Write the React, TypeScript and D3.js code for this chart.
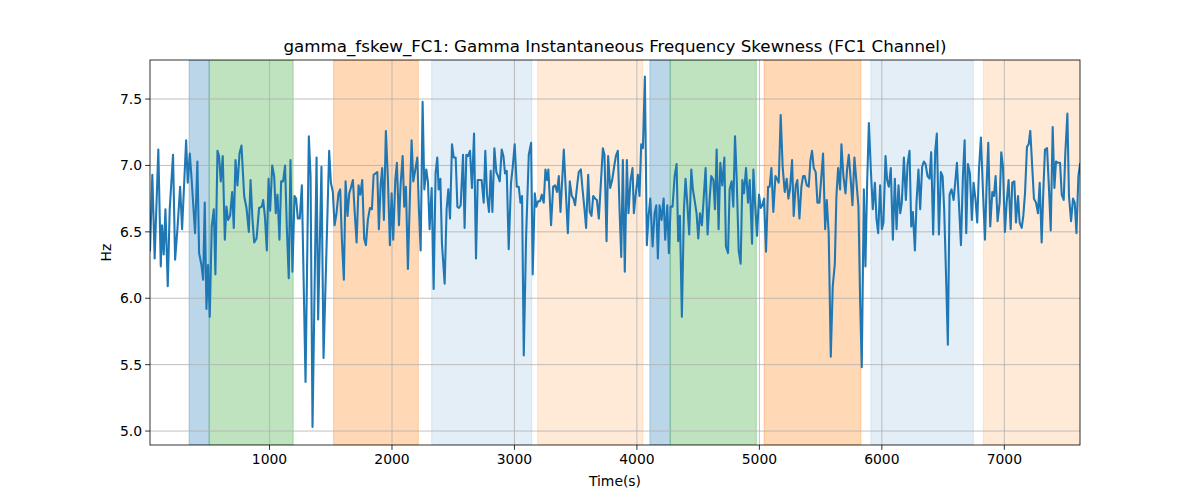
import React from "react";
import * as d3 from "d3";

const TITLE = "gamma_fskew_FC1: Gamma Instantaneous Frequency Skewness (FC1 Channel)";
const X_LABEL = "Time(s)";
const Y_LABEL = "Hz";

const times: number[] = [
  24, 43, 62, 92, 112, 122, 136, 150, 169, 185, 212, 229, 248, 270, 286, 319, 332, 349, 365, 392,
  411, 425, 444, 458, 471, 485, 498, 512, 528, 545, 558, 575, 588, 602, 618, 635, 648, 662, 678, 695,
  708, 722, 738, 755, 771, 793, 812, 831, 845, 861, 875, 894, 915, 937, 948, 962, 978, 992, 1005, 1022,
  1038, 1051, 1065, 1081, 1095, 1111, 1127, 1141, 1157, 1171, 1187, 1204, 1217, 1231, 1247, 1264, 1294, 1321, 1335, 1351,
  1384, 1397, 1424, 1441, 1487, 1501, 1517, 1531, 1547, 1563, 1577, 1591, 1607, 1621, 1637, 1651, 1664, 1681, 1694, 1711,
  1727, 1741, 1757, 1773, 1787, 1803, 1820, 1836, 1850, 1866, 1880, 1893, 1907, 1920, 1934, 1950, 1967, 1983, 1997,
  2010, 2027, 2040, 2057, 2070, 2087, 2100, 2114, 2130, 2144, 2160, 2174, 2187, 2207, 2220, 2234, 2250, 2264, 2280, 2294,
  2307, 2324, 2340, 2356, 2370, 2381, 2395, 2408, 2430, 2446, 2460, 2474, 2490, 2504, 2520, 2534, 2547, 2561, 2580, 2593,
  2607, 2621, 2637, 2653, 2670, 2686, 2700, 2719, 2732, 2749, 2762, 2776, 2792, 2806, 2820, 2836, 2852, 2866, 2880, 2896,
  2910, 2923, 2937, 2953, 2972,
  2986, 3002, 3019, 3035, 3049, 3062, 3076, 3095, 3117, 3136, 3149, 3166, 3179, 3193, 3209, 3223, 3239, 3253, 3267, 3277,
  3299, 3316, 3332, 3348, 3362, 3376, 3403, 3436, 3452, 3468, 3482, 3495, 3512, 3525, 3542, 3555, 3572, 3585, 3602, 3615,
  3629, 3643, 3659, 3673, 3689, 3722, 3735, 3752, 3765, 3782, 3798, 3814, 3828, 3844, 3858, 3872, 3885, 3901, 3918, 3931,
  3948, 3964,
  3975, 3989, 4008, 4021, 4035, 4049, 4065, 4081, 4095, 4109, 4128, 4144, 4158, 4171, 4185, 4201, 4218, 4231, 4248, 4261,
  4275, 4291, 4308, 4324, 4337, 4351, 4367, 4384, 4397, 4411, 4427, 4444, 4457, 4474, 4487, 4501, 4515, 4531, 4547, 4561,
  4577, 4594, 4607, 4624, 4637, 4651, 4667, 4681, 4697, 4714, 4727, 4744, 4757, 4773, 4787, 4801, 4814, 4831, 4847, 4861,
  4874, 4891, 4907, 4921, 4940,
  4951, 4964, 4981, 4997, 5011, 5024, 5038, 5054, 5071, 5084, 5098, 5114, 5131, 5144, 5158, 5174, 5190, 5207, 5223, 5237,
  5250, 5267, 5280, 5297, 5310, 5327, 5343, 5357, 5370, 5387, 5403, 5417, 5430, 5444, 5460, 5474, 5490, 5504, 5520, 5537,
  5550, 5566, 5583, 5599, 5616, 5629, 5643, 5659, 5670, 5686, 5703, 5716, 5730, 5746, 5760, 5776, 5793, 5809, 5823, 5836,
  5853, 5866, 5880, 5894, 5910, 5926,
  5943, 5956, 5970, 5986, 6000, 6013, 6030, 6043, 6057, 6073, 6090, 6106, 6120, 6136, 6150, 6163, 6180, 6196, 6210, 6226,
  6240, 6253, 6270, 6283, 6299, 6313, 6329, 6343, 6357, 6373, 6389, 6403, 6419, 6436, 6449, 6466, 6482, 6496, 6509, 6523,
  6539, 6553, 6569, 6586, 6599, 6613, 6629, 6646, 6662, 6676, 6689, 6703, 6719, 6735, 6749, 6765, 6779, 6793, 6809, 6825,
  6842, 6855, 6869, 6885, 6902,
  6915, 6929, 6945, 6962, 6975, 6989, 7005, 7019, 7035, 7052, 7065, 7082, 7095, 7112, 7125, 7142, 7155, 7169, 7185, 7199,
  7212, 7229, 7242, 7259, 7275, 7289, 7305, 7319, 7332, 7349, 7365, 7379, 7395, 7409, 7422, 7439, 7455, 7469, 7485, 7498,
  7515, 7528, 7545, 7561, 7575, 7589, 7605, 7618,
];

const values: number[] = [
  6.36, 6.93, 6.30, 7.12, 6.24, 6.55, 6.33, 6.67, 6.09, 6.67, 7.08, 6.29, 6.52, 6.84, 6.52, 7.19, 6.87, 7.09, 6.88, 6.49,
  7.03, 6.34, 6.25, 6.14, 6.72, 5.92, 6.25, 5.86, 6.54, 6.67, 6.18, 7.11, 7.07, 6.88, 7.07, 6.44, 6.69, 6.59, 6.62, 6.80,
  6.53, 7.04, 6.85, 7.09, 7.15, 6.77, 6.68, 6.50, 6.89, 6.59, 6.42, 6.45, 6.68, 6.69, 6.74, 6.62, 6.36, 6.90, 6.66, 7.00,
  6.92, 6.64, 6.78, 6.44, 6.88, 6.88, 7.00, 6.54, 6.15, 7.04, 6.20, 6.77, 6.75, 6.60, 6.60, 6.85, 5.37, 7.22, 6.92, 5.03,
  7.06, 5.84, 6.99, 5.55, 7.11, 6.87, 6.80, 6.55, 6.64, 6.79, 6.82, 6.44, 6.14, 6.88, 6.62, 6.79, 6.83, 6.89, 6.67, 6.42,
  6.85, 6.78, 6.89, 6.45, 6.40, 6.59, 6.68, 6.67, 6.93, 6.94, 6.95, 6.52, 6.85, 6.98, 6.59, 7.26, 6.89, 6.40, 6.79,
  6.44, 6.89, 7.02, 6.55, 6.85, 7.07, 6.69, 6.84, 6.22, 6.69, 7.19, 6.88, 6.95, 7.06, 6.67, 6.36, 7.48, 6.82, 6.97, 6.87,
  6.52, 6.83, 6.07, 6.94, 7.06, 6.82, 6.90, 6.41, 6.11, 6.67, 6.82, 6.60, 7.16, 7.06, 7.06, 6.69, 6.68, 6.70, 7.08, 6.53,
  7.08, 7.07, 7.11, 6.83, 7.24, 6.30, 6.89, 6.89, 6.89, 6.72, 7.11, 6.78, 6.65, 6.96, 6.65, 7.13, 6.95, 6.92, 6.88, 7.12,
  7.07, 6.94, 6.96, 6.37, 6.87,
  6.99, 7.16, 6.84, 6.84, 6.72, 6.77, 5.57, 6.46, 7.08, 7.17, 6.18, 6.79, 6.69, 6.73, 6.73, 6.78, 6.72, 6.97, 6.89, 6.97,
  6.55, 6.84, 6.85, 6.80, 6.92, 6.65, 7.12, 6.49, 6.88, 6.77, 6.75, 6.70, 6.85, 6.95, 6.97, 6.83, 6.67, 6.53, 6.93, 6.65,
  6.62, 6.77, 6.75, 6.74, 6.60, 7.13, 7.08, 6.43, 7.07, 6.83, 6.89, 6.99, 7.07, 7.11, 6.67, 6.31, 7.04, 6.20, 7.04, 6.64,
  6.89, 6.98,
  6.64, 6.77, 6.93, 6.77, 7.16, 7.13, 7.67, 6.40, 6.62, 6.75, 6.39, 6.64, 6.70, 6.30, 6.70, 6.59, 6.75, 6.44, 6.70, 6.34,
  6.69, 6.69, 6.92, 7.01, 6.43, 6.62, 5.86, 6.67, 6.90, 6.72, 6.48, 6.97, 6.82, 6.72, 6.64, 6.45, 6.64, 6.55, 6.78, 6.98,
  6.48, 6.75, 6.92, 6.89, 6.67, 7.12, 6.52, 7.02, 6.85, 7.06, 6.39, 6.34, 6.82, 6.88, 6.69, 7.22, 6.92, 6.36, 6.26, 6.89,
  6.79, 6.98, 6.72, 6.89, 6.41,
  6.97, 6.72, 6.47, 6.78, 6.68, 6.70, 6.75, 6.35, 6.84, 6.84, 6.98, 6.65, 6.92, 6.90, 6.87, 7.38, 6.99, 6.80, 6.90, 6.75,
  6.82, 7.04, 6.62, 6.85, 6.89, 6.60, 6.84, 6.92, 6.92, 6.85, 6.84, 7.04, 7.11, 6.98, 6.95, 6.72, 6.72, 6.89, 7.09, 6.52,
  6.74, 6.49, 5.56, 6.09, 6.26, 6.77, 6.98, 6.82, 7.16, 6.92, 6.79, 6.97, 7.08, 6.89, 6.70, 7.06, 6.87, 6.69, 5.96, 5.48,
  6.82, 6.24, 6.87, 7.32, 6.97, 6.67,
  6.87, 6.60, 6.49, 6.85, 6.52, 6.57, 7.07, 6.89, 6.84, 6.98, 6.44, 6.90, 6.52, 6.85, 6.64, 6.72, 7.06, 6.74, 7.01, 7.11,
  6.54, 6.65, 6.36, 6.72, 6.97, 6.67, 6.99, 7.03, 7.01, 6.92, 6.90, 7.10, 6.48, 7.11, 7.24, 6.48, 6.95, 6.92, 6.67, 6.21,
  5.65, 6.78, 6.82, 6.74, 6.87, 7.02, 6.72, 6.40, 6.92, 7.19, 6.49, 7.01, 6.94, 6.59, 6.87, 6.74, 6.57, 6.97, 7.21, 6.82,
  6.44, 6.84, 7.17, 6.54, 6.80,
  6.77, 6.92, 6.58, 6.72, 7.10, 6.99, 6.50, 6.72, 6.89, 6.52, 6.87, 6.88, 6.57, 6.77, 6.57, 6.53, 6.62, 6.79, 7.14, 7.16,
  7.26, 6.97, 6.75, 6.72, 6.64, 6.87, 6.42, 6.82, 7.12, 7.13, 6.82, 6.51, 7.29, 6.83, 7.03, 7.02, 7.02, 6.78, 6.74, 7.09,
  7.39, 6.77, 6.58, 6.75, 6.72, 6.49, 6.92, 7.01,
];

const spanStarts: number[] = [343, 507, 1523, 2324, 3190, 4106, 4272, 5038, 5910, 6828];
const spanEnds: number[] = [507, 1193, 2215, 3142, 4049, 4272, 4975, 5829, 6747, 7621];
const spanColors: string[] = ["#1f77b4", "#2ca02c", "#ff7f0e", "#1f77b4", "#ff7f0e", "#1f77b4", "#2ca02c", "#ff7f0e", "#1f77b4", "#ff7f0e"];
const spanAlphas: number[] = [0.3, 0.3, 0.3, 0.12, 0.16, 0.3, 0.3, 0.3, 0.12, 0.16];

const xTicks: number[] = [1000, 2000, 3000, 4000, 5000, 6000, 7000];
const yTicks: number[] = [5.0, 5.5, 6.0, 6.5, 7.0, 7.5];

const W = 1200;
const H = 500;
const L = 150;
const R = 1080;
const T = 60;
const B = 445;
const FONT = "DejaVu Sans, sans-serif";

export default function App() {
  const x = d3.scaleLinear().domain([times[0], times[times.length - 1]]).range([L, R]);
  const y = d3.scaleLinear().domain([4.895, 7.794]).range([B, T]);
  const pts: [number, number][] = times.map((t, i) => [t, values[i]]);
  const line = d3
    .line<[number, number]>()
    .x((d) => x(d[0]))
    .y((d) => y(d[1]));

  return (
    <svg
      width={W}
      height={H}
      style={{ position: "absolute", left: 0, top: 0, background: "#fff" }}
      fontFamily={FONT}
    >
      <rect x={0} y={0} width={W} height={H} fill="#fff" />
      <defs>
        <clipPath id="plotclip">
          <rect x={L} y={T} width={R - L} height={B - T} />
        </clipPath>
      </defs>
      <g clipPath="url(#plotclip)">
        {spanStarts.map((s, i) => (
          <rect
            key={"sp" + i}
            x={x(s)}
            y={T}
            width={x(spanEnds[i]) - x(s)}
            height={B - T}
            fill={spanColors[i]}
            fillOpacity={spanAlphas[i]}
            stroke={spanColors[i]}
            strokeOpacity={spanAlphas[i]}
            strokeWidth={1}
          />
        ))}
        {xTicks.map((t) => (
          <line key={"gx" + t} x1={x(t)} x2={x(t)} y1={T} y2={B} stroke="#b0b0b0" strokeWidth={0.8} />
        ))}
        {yTicks.map((t) => (
          <line key={"gy" + t} x1={L} x2={R} y1={y(t)} y2={y(t)} stroke="#b0b0b0" strokeWidth={0.8} />
        ))}
        <path d={line(pts) || ""} fill="none" stroke="#1f77b4" strokeWidth={2.08} strokeLinejoin="round" strokeLinecap="square" />
      </g>
      <rect x={L} y={T} width={R - L} height={B - T} fill="none" stroke="#000" strokeWidth={0.8} />
      {xTicks.map((t) => (
        <g key={"xt" + t}>
          <line x1={x(t)} x2={x(t)} y1={B} y2={B + 4.9} stroke="#000" strokeWidth={0.8} />
          <text x={x(t)} y={B + 19} fontSize={13.9} textAnchor="middle" fill="#000">
            {t}
          </text>
        </g>
      ))}
      {yTicks.map((t) => (
        <g key={"yt" + t}>
          <line x1={L - 4.9} x2={L} y1={y(t)} y2={y(t)} stroke="#000" strokeWidth={0.8} />
          <text x={L - 8} y={y(t)} dy="0.35em" fontSize={13.9} textAnchor="end" fill="#000">
            {t.toFixed(1)}
          </text>
        </g>
      ))}
      <text x={(L + R) / 2} y={486} fontSize={13.9} textAnchor="middle" fill="#000">
        {X_LABEL}
      </text>
      <text
        transform={`translate(${111},${(T + B) / 2}) rotate(-90)`}
        fontSize={13.9}
        textAnchor="middle"
        fill="#000"
      >
        {Y_LABEL}
      </text>
      <text x={(L + R) / 2} y={52} fontSize={16.7} textAnchor="middle" fill="#000">
        {TITLE}
      </text>
    </svg>
  );
}
